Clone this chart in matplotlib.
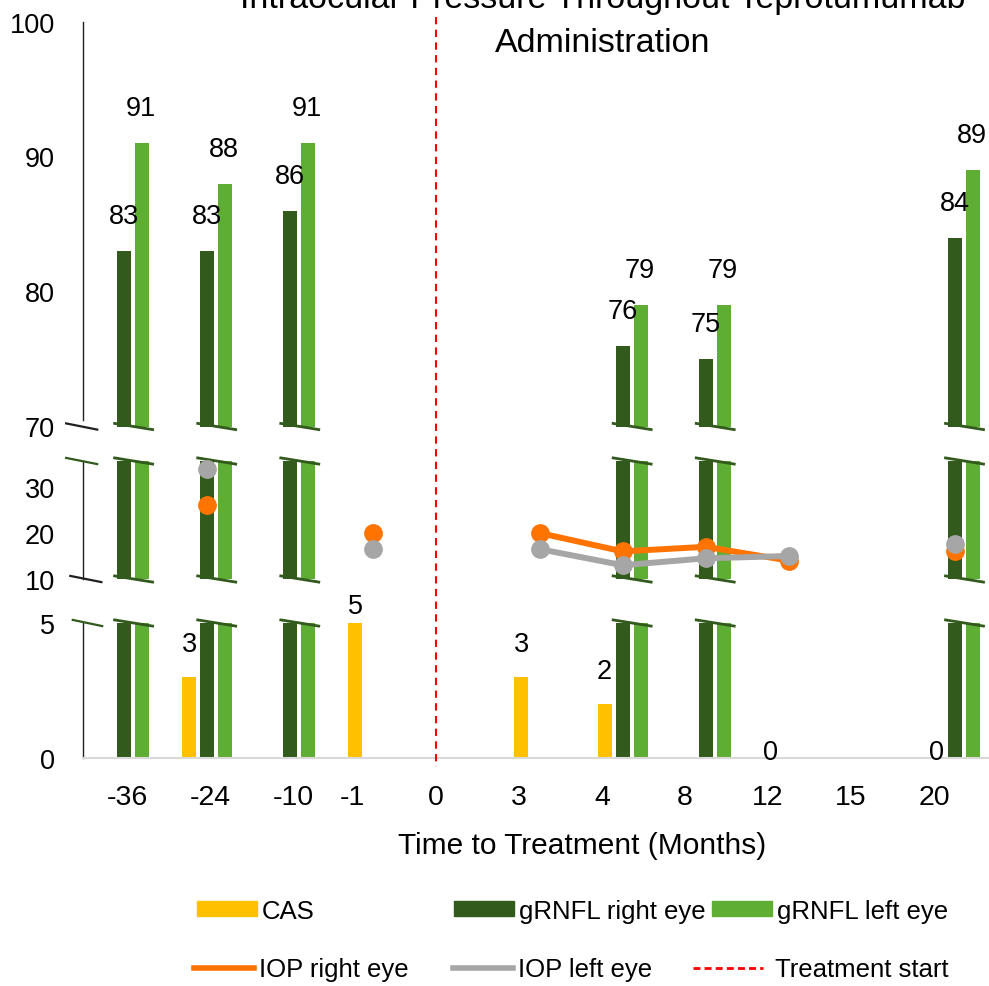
import numpy as np
import matplotlib
matplotlib.use("Agg")
import matplotlib.pyplot as plt
import matplotlib.transforms as mtransforms
from matplotlib.lines import Line2D
from matplotlib.patches import Patch

plt.rcParams['font.family'] = ['Liberation Sans', 'DejaVu Sans']

# ---------------- data ----------------
months = ['-36', '-24', '-10', '-1', '0', '3', '4', '8', '12', '15', '20']
cas = [np.nan, 3, np.nan, 5, np.nan, 3, 2, np.nan, 0, np.nan, 0]
grnfl_right = [83, 83, 86, np.nan, np.nan, np.nan, 76, 75, np.nan, np.nan, 84]
grnfl_left = [91, 88, 91, np.nan, np.nan, np.nan, 79, 79, np.nan, np.nan, 89]
iop_right = [np.nan, 26, np.nan, 20, np.nan, 20, 16, 17, 14, np.nan, 16]
iop_left = [np.nan, 34, np.nan, 16.5, np.nan, 16.5, 13, 14.5, 15, np.nan, 17.5]
treatment_start = '0'
title = 'Intraocular Pressure Throughout Teprotumumab\nAdministration'
xlabel = 'Time to Treatment (Months)'

# ---------------- style ----------------
C_CAS = '#ffc000'
C_DG = '#325a1d'
C_LG = '#5fae34'
C_OR = '#ff7300'
C_GR = '#a6a6a6'

W, H = 989, 987
fig = plt.figure(figsize=(W / 100, H / 100), dpi=100)

left, width = 82.5 / W, 914 / W
ax_top = fig.add_axes([left, 1 - 427.5 / H, width, 405 / H])
ax_mid = fig.add_axes([left, 1 - 580 / H, width, 118 / H])
ax_bot = fig.add_axes([left, 1 - 759 / H, width, 135 / H])
axes = [ax_top, ax_mid, ax_bot]
ax_px_h = {ax_top: 405, ax_mid: 118, ax_bot: 135}

x = np.arange(len(months))
off, bw = 0.217, 0.168

for ax in axes:
    ax.bar(x - off, cas, bw, color=C_CAS, zorder=2)
    ax.bar(x, grnfl_right, bw, color=C_DG, zorder=2)
    ax.bar(x + off, grnfl_left, bw, color=C_LG, zorder=2)
    ax.set_xlim(-0.5, len(months) - 0.5)
    for s in ['top', 'right', 'bottom']:
        ax.spines[s].set_visible(False)
    ax.spines['left'].set_color('#202020')
    ax.spines['left'].set_linewidth(1.0)
    ax.tick_params(length=0, labelsize=19.5, pad=20)
    ax.set_facecolor('none')

ax_top.set_ylim(70, 100)
ax_top.set_yticks([70, 80, 90, 100])
ax_top.spines['left'].set_bounds(70.5, 100)
ax_mid.set_ylim(10, 35.65)
ax_mid.set_yticks([10, 20, 30])
ax_bot.set_ylim(0, 5)
ax_bot.set_yticks([0, 5])
ax_top.set_xticks([])
ax_mid.set_xticks([])

ax_bot.spines['bottom'].set_visible(True)
ax_bot.spines['bottom'].set_color('#d9d9d9')
ax_bot.spines['bottom'].set_linewidth(1.5)
tick_pos = np.where(x >= 3, x - 0.25, x + 0.04)
ax_bot.set_xticks(tick_pos)
ax_bot.set_xticklabels(months)
ax_bot.tick_params(axis='x', pad=19, labelsize=20.5)

# IOP lines (middle panel)
ax_mid.plot(x, iop_right, color=C_OR, lw=4.3, marker='o', ms=12.5, zorder=5, clip_on=False)
ax_mid.plot(x, iop_left, color=C_GR, lw=4.3, marker='o', ms=12.5, zorder=6, clip_on=False)

# break marks
def slant(ax, x0, x1, yax, color, lw=2.0):
    d = 3.3 / ax_px_h[ax]
    tr = mtransforms.blended_transform_factory(ax.transData, ax.transAxes)
    ax.add_line(Line2D([x0, x1], [yax + d, yax - d], transform=tr, color=color,
                       lw=lw, clip_on=False, zorder=4, solid_capstyle='butt'))

has_grnfl = ~np.isnan(np.array(grnfl_right, dtype=float))
for i in x[has_grnfl]:
    slant(ax_top, i - 0.13, i + 0.36, 0.0, C_DG)
    slant(ax_mid, i - 0.13, i + 0.36, 1.0, C_DG)
    slant(ax_mid, i - 0.13, i + 0.36, 0.0, C_DG)
    slant(ax_bot, i - 0.13, i + 0.36, 1.0, C_DG)
slant(ax_top, -0.71, -0.31, 0.0, '#202020', 1.6)
slant(ax_mid, -0.71, -0.31, 1.0, C_DG, 1.6)
slant(ax_mid, -0.66, -0.26, 0.0, '#202020', 1.6)
slant(ax_bot, -0.63, -0.25, 1.0, C_DG, 1.6)

# data labels
for i in x[has_grnfl]:
    ax_top.annotate(f'{grnfl_right[i]:g}', (i, grnfl_right[i]), xytext=(0, 25),
                    textcoords='offset points', ha='center', va='center', fontsize=19.5)
    ax_top.annotate(f'{grnfl_left[i]:g}', (i + off, grnfl_left[i]), xytext=(-1, 25),
                    textcoords='offset points', ha='center', va='center', fontsize=19.5)
cas_arr = np.array(cas, dtype=float)
for i in x[~np.isnan(cas_arr)]:
    v = cas_arr[i]
    dy = 4 if v == 0 else (12 if v >= 5 else 24)
    ax_bot.annotate(f'{v:g}', (i - off, v), xytext=(0, dy), textcoords='offset points',
                    ha='center', va='center', fontsize=19.5, annotation_clip=False)

# treatment start line
x0 = tick_pos[months.index(treatment_start)]
trf = mtransforms.blended_transform_factory(ax_bot.transData, fig.transFigure)
fig.add_artist(Line2D([x0, x0], [1 - 18 / H, 1 - 768 / H], transform=trf, color='#ff0000',
                      lw=1.5, ls=(0, (3.5, 2.6))))

# titles
fig.text(603 / W, 1 - 59 / H, title, ha='center', va='bottom', fontsize=24.5,
         multialignment='center', linespacing=1.55)
fig.text(582 / W, 1 - 846 / H, xlabel, ha='center', va='center', fontsize=21.5)

# legend (individually placed entries)
fs = 18.5
fpx = fs * 100 / 72
entries = [
    (Patch(color=C_CAS), 'CAS', 197, 912, 60, 5),
    (Patch(color=C_DG), 'gRNFL right eye', 454, 912, 60, 5),
    (Patch(color=C_LG), 'gRNFL left eye', 712, 912, 60, 5),
    (Line2D([], [], color=C_OR, lw=4), 'IOP right eye', 194, 970, 60, 5),
    (Line2D([], [], color=C_GR, lw=4), 'IOP left eye', 453, 970, 60, 5),
    (Line2D([], [], color='#ff0000', lw=2, ls=(0, (2.5, 1.5))), 'Treatment start', 693, 970, 70, 12),
]
for h, lab, lx, ly, hl, tp in entries:
    fig.legend(handles=[h], labels=[lab], loc='center left',
               bbox_to_anchor=(lx / W, 1 - ly / H), frameon=False, fontsize=fs,
               handlelength=hl / fpx, handletextpad=tp / fpx, handleheight=0.52,
               borderpad=0, borderaxespad=0)

fig.savefig('out.png', dpi=100)
